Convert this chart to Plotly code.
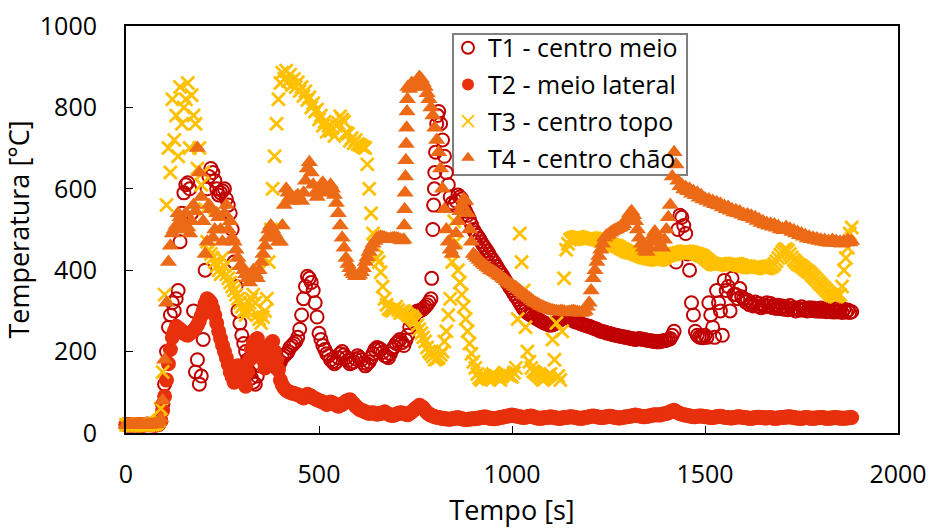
import plotly.graph_objects as go

# Leituras a cada 5 s; cada linha cobre 100 s (0-95, 100-195, ..., 1800-1880)
PASSO = 5
BLOCO = 100

T1_centro_meio = [
    [20, 19, 21, 20, 20, 21, 19, 20, 20, 19, 21, 22, 20, 21, 20, 19, 22, 21, 30, 70],
    [120, 200, 260, 290, 320, 300, 330, 350, 470, 540, 590, 610, 615, 600, 540, 300, 150, 180, 120, 140],
    [230, 400, 600, 630, 650, 640, 620, 600, 585, 590, 595, 600, 575, 560, 540, 500, 420, 360, 300, 270],
    [240, 220, 200, 180, 150, 135, 125, 120, 140, 165, 190, 200, 210, 205, 195, 185, 170, 165, 160, 165],
    [175, 185, 190, 195, 200, 210, 215, 220, 225, 235, 255, 290, 330, 360, 385, 380, 370, 350, 320, 285],
    [245, 230, 215, 205, 195, 190, 180, 175, 170, 175, 185, 195, 200, 192, 185, 178, 170, 172, 175, 182],
    [190, 185, 180, 172, 165, 170, 175, 185, 195, 205, 210, 208, 205, 198, 190, 188, 185, 195, 205, 212],
    [220, 225, 230, 222, 215, 228, 240, 260, 275, 285, 295, 300, 300, 302, 305, 310, 315, 322, 330, 500],
    [640, 760, 790, 760, 720, 680, 640, 610, 580, 565, 560, 570, 585, 580, 575, 560, 545, 535, 525, 512],
    [500, 492, 485, 478, 470, 462, 455, 448, 440, 432, 425, 418, 410, 402, 395, 388, 380, 372, 365, 357],
    [350, 342, 335, 328, 320, 312, 305, 300, 295, 292, 290, 286, 283, 280, 278, 275, 272, 270, 268, 266],
    [265, 266, 268, 272, 275, 278, 282, 284, 285, 283, 280, 278, 275, 273, 272, 270, 268, 266, 265, 263],
    [262, 260, 258, 256, 255, 252, 250, 249, 248, 246, 245, 244, 242, 241, 240, 239, 238, 237, 236, 235],
    [234, 233, 232, 231, 230, 231, 232, 231, 230, 229, 228, 227, 226, 226, 225, 224, 224, 225, 226, 227],
    [228, 230, 232, 240, 250, 420, 500, 535, 530, 510, 490, 440, 400, 320, 290, 250, 240, 236, 235, 234],
    [240, 235, 320, 290, 260, 235, 350, 320, 300, 240, 375, 350, 360, 300, 380, 340, 340, 330, 355, 335],
    [330, 322, 326, 315, 320, 312, 322, 312, 318, 308, 315, 310, 320, 312, 318, 308, 313, 306, 314, 306],
    [312, 304, 310, 303, 313, 305, 308, 300, 307, 302, 310, 302, 306, 300, 308, 301, 307, 300, 305, 299],
    [307, 299, 304, 298, 306, 298, 303, 297, 305, 298, 302, 296, 304, 297, 302, 296, 298],
]
T1_extra_t = [792, 797, 799, 802, 807]
T1_extra_v = [380, 560, 600, 690, 780]

T2_meio_lateral = [
    [20, 21, 20, 19, 21, 20, 20, 21, 19, 20, 20, 21, 21, 20, 20, 19, 21, 22, 30, 55],
    [90, 130, 170, 205, 235, 250, 262, 258, 255, 250, 245, 242, 240, 244, 248, 252, 258, 265, 275, 288],
    [300, 318, 330, 326, 320, 305, 290, 270, 250, 232, 215, 200, 185, 168, 150, 138, 125, 145, 165, 152],
    [140, 128, 115, 150, 180, 205, 220, 228, 232, 215, 200, 180, 160, 185, 210, 220, 225, 200, 180, 155],
    [130, 118, 110, 105, 102, 100, 98, 97, 96, 94, 92, 89, 86, 90, 95, 93, 90, 87, 84, 82],
    [80, 78, 76, 73, 70, 73, 76, 74, 72, 68, 66, 68, 70, 74, 78, 80, 82, 76, 72, 66],
    [62, 58, 56, 54, 52, 50, 48, 49, 50, 48, 46, 47, 48, 50, 52, 49, 46, 44, 43, 44],
    [46, 48, 50, 49, 48, 46, 45, 48, 52, 56, 60, 64, 68, 65, 62, 56, 50, 46, 44, 42],
    [40, 39, 38, 37, 36, 35, 35, 34, 34, 35, 36, 37, 38, 36, 35, 34, 33, 34, 34, 35],
    [35, 35, 36, 37, 38, 39, 40, 38, 37, 36, 35, 35, 36, 37, 38, 39, 40, 41, 42, 43],
    [44, 43, 42, 41, 40, 39, 38, 39, 40, 41, 42, 40, 38, 37, 36, 36, 37, 38, 38, 39],
    [40, 39, 38, 37, 36, 36, 37, 38, 38, 39, 40, 40, 39, 38, 37, 36, 36, 37, 38, 39],
    [40, 41, 42, 41, 40, 39, 38, 38, 39, 40, 41, 41, 40, 39, 38, 37, 37, 38, 39, 40],
    [40, 41, 42, 43, 44, 43, 42, 41, 40, 40, 41, 42, 43, 44, 45, 45, 44, 45, 46, 47],
    [48, 50, 52, 54, 56, 53, 50, 48, 46, 45, 44, 43, 42, 41, 40, 40, 41, 42, 42, 41],
    [40, 40, 39, 38, 38, 39, 40, 41, 41, 40, 39, 38, 38, 37, 37, 38, 39, 40, 40, 39],
    [38, 38, 37, 36, 36, 37, 38, 39, 39, 38, 38, 37, 37, 38, 38, 37, 36, 36, 37, 38],
    [38, 39, 39, 40, 40, 39, 38, 37, 37, 36, 36, 37, 38, 38, 37, 36, 36, 37, 37, 38],
    [38, 38, 37, 36, 36, 37, 37, 38, 38, 37, 37, 36, 36, 37, 37, 38, 38],
]
T2_extra_t = []
T2_extra_v = []

T3_centro_topo = [
    [20, 21, 20, 19, 19, 20, 20, 21, 21, 20, 20, 19, 20, 21, 21, 22, 25, 30, 60, 150],
    [340, 560, 700, 640, 820, 720, 780, 680, 850, 760, 800, 820, 860, 700, 830, 780, 760, 650, 700, 610],
    [640, 550, 470, 450, 440, 430, 420, 410, 400, 390, 430, 410, 390, 380, 370, 360, 350, 340, 330, 320],
    [310, 300, 290, 300, 320, 330, 340, 320, 290, 280, 270, 285, 300, 330, 420, 500, 600, 680, 760, 820],
    [860, 885, 870, 890, 865, 880, 855, 870, 850, 862, 840, 850, 828, 840, 818, 825, 800, 810, 790, 795],
    [770, 780, 755, 765, 740, 755, 742, 750, 730, 755, 762, 778, 770, 765, 738, 735, 718, 725, 712, 720],
    [710, 708, 705, 702, 700, 660, 600, 540, 490, 460, 430, 420, 395, 360, 330, 315, 305, 302, 300, 305],
    [310, 302, 295, 298, 300, 295, 290, 288, 285, 280, 275, 265, 255, 245, 235, 225, 210, 200, 195, 188],
    [180, 182, 185, 192, 200, 225, 250, 290, 330, 420, 520, 470, 400, 370, 340, 310, 280, 250, 220, 195],
    [175, 160, 145, 135, 130, 135, 140, 136, 132, 140, 145, 140, 138, 134, 130, 140, 148, 145, 142, 140],
    [138, 148, 160, 280, 490, 420, 350, 260, 200, 175, 160, 152, 148, 144, 140, 135, 130, 134, 138, 142],
    [145, 230, 180, 270, 140, 130, 250, 380, 450, 465, 475, 478, 480, 481, 482, 481, 480, 478, 476, 477],
    [478, 479, 478, 477, 476, 474, 472, 471, 470, 468, 465, 464, 462, 461, 460, 458, 455, 452, 450, 448],
    [445, 444, 443, 442, 440, 438, 436, 434, 432, 431, 430, 429, 428, 427, 426, 425, 425, 426, 428, 430],
    [435, 436, 438, 439, 440, 441, 442, 443, 445, 446, 446, 446, 445, 444, 442, 441, 440, 438, 436, 434],
    [430, 426, 422, 418, 415, 414, 414, 415, 416, 416, 415, 414, 412, 413, 414, 415, 416, 415, 413, 412],
    [410, 409, 408, 407, 406, 407, 408, 409, 410, 408, 406, 405, 404, 406, 408, 410, 415, 422, 430, 438],
    [445, 450, 452, 448, 440, 432, 425, 420, 415, 412, 410, 406, 402, 398, 395, 390, 385, 380, 375, 370],
    [365, 360, 355, 350, 345, 341, 338, 336, 335, 337, 340, 360, 400, 430, 455, 490, 505],
]
T3_extra_t = []
T3_extra_v = []

T4_centro_chao = [
    [20, 21, 20, 19, 21, 20, 20, 21, 20, 19, 19, 20, 20, 21, 21, 22, 22, 28, 35, 80],
    [180, 320, 420, 460, 490, 500, 510, 540, 530, 500, 520, 540, 505, 490, 520, 560, 545, 700, 640, 580],
    [520, 440, 470, 560, 550, 480, 500, 540, 530, 500, 470, 540, 560, 500, 520, 480, 470, 450, 430, 410],
    [410, 400, 390, 380, 370, 385, 400, 390, 380, 400, 420, 440, 460, 480, 500, 510, 500, 490, 480, 470],
    [470, 510, 560, 600, 590, 580, 570, 575, 580, 585, 575, 570, 590, 620, 650, 665, 640, 610, 590, 580],
    [600, 610, 615, 605, 590, 600, 610, 600, 585, 565, 540, 510, 480, 455, 430, 415, 405, 395, 390, 385],
    [385, 388, 395, 405, 420, 432, 445, 455, 465, 472, 478, 481, 482, 481, 480, 478, 476, 477, 478, 479],
    [478, 477, 475, 473, 475, 670, 850, 845, 860, 850, 860, 868, 875, 870, 860, 850, 835, 820, 800, 780],
    [750, 720, 690, 650, 600, 550, 500, 470, 450, 440, 460, 490, 520, 545, 560, 575, 570, 540, 500, 470],
    [440, 435, 430, 425, 420, 416, 412, 408, 404, 400, 398, 395, 392, 388, 385, 381, 378, 374, 370, 367],
    [364, 360, 358, 354, 350, 346, 342, 338, 335, 331, 328, 324, 320, 318, 315, 312, 310, 308, 306, 304],
    [302, 301, 300, 299, 298, 299, 300, 298, 296, 297, 298, 299, 300, 298, 297, 296, 295, 297, 300, 310],
    [320, 350, 380, 400, 420, 435, 450, 465, 480, 485, 488, 492, 495, 498, 500, 503, 505, 508, 512, 520],
    [530, 540, 545, 535, 520, 500, 480, 465, 455, 448, 445, 455, 470, 485, 495, 485, 470, 460, 455, 475],
    [500, 530, 560, 630, 690, 660, 620, 606, 610, 598, 604, 594, 600, 588, 594, 584, 590, 578, 584, 574],
    [576, 570, 574, 566, 570, 562, 567, 559, 563, 554, 558, 550, 555, 546, 550, 542, 547, 540, 544, 536],
    [538, 532, 537, 530, 534, 526, 530, 521, 525, 516, 520, 512, 516, 509, 514, 507, 512, 504, 508, 500],
    [502, 498, 506, 499, 502, 494, 498, 490, 494, 486, 490, 482, 486, 478, 482, 476, 480, 474, 478, 472],
    [475, 470, 474, 468, 472, 467, 474, 468, 472, 466, 470, 465, 472, 468, 474, 468, 472],
]
T4_extra_t = [721, 722, 723, 724, 726, 727, 728, 729]
T4_extra_v = [510, 550, 590, 630, 710, 750, 790, 820]


def serie(linhas, extra_t, extra_v):
    pares = []
    for i, linha in enumerate(linhas):
        for j, v in enumerate(linha):
            pares.append((BLOCO * i + PASSO * j, v))
    pares += list(zip(extra_t, extra_v))
    pares.sort()
    return [p[0] for p in pares], [p[1] for p in pares]


FONTE = "Open Sans"
fig = go.Figure()

series = [
    ("T1 - centro meio", T1_centro_meio, T1_extra_t, T1_extra_v,
     dict(symbol="circle-open", size=13, color="#C00000", line=dict(width=2, color="#C00000"))),
    ("T2 - meio lateral", T2_meio_lateral, T2_extra_t, T2_extra_v,
     dict(symbol="circle", size=15, color="#E8300C", line=dict(width=0))),
    ("T3 - centro topo", T3_centro_topo, T3_extra_t, T3_extra_v,
     dict(symbol="x-thin-open", size=13, color="#FFC000", line=dict(width=2.8, color="#FFC000"))),
    ("T4 - centro chão", T4_centro_chao, T4_extra_t, T4_extra_v,
     dict(symbol="triangle-up", size=15, color="#EC6A16", line=dict(width=0))),
]

for i, (nome, linhas, et, ev, mk) in enumerate(series):
    x, y = serie(linhas, et, ev)
    fig.add_trace(go.Scatter(
        x=x, y=y, mode="markers", name=nome, marker=mk,
        cliponaxis=False, legendgroup=f"g{i}",
    ))

fig.update_layout(
    width=931, height=528,
    margin=dict(l=126, r=33, t=26, b=95, autoexpand=False),
    paper_bgcolor="white", plot_bgcolor="white",
    font=dict(family=FONTE, size=25, color="#000000"),
    showlegend=True,
    legend=dict(
        x=0.4171, y=1.0025, xanchor="left", yanchor="top",
        bgcolor="rgba(0,0,0,0)", borderwidth=0,
        font=dict(family=FONTE, size=25, color="#000000"),
        traceorder="grouped", tracegroupgap=1.2,
        itemsizing="constant",
    ),
    # moldura da legenda (os marcadores ficam por cima dela)
    shapes=[dict(
        type="rect", xref="paper", yref="paper",
        x0=0.4236, x1=0.7267, y0=0.6339, y1=0.9803,
        fillcolor="white", line=dict(color="#7F7F7F", width=2),
        layer="below",
    )],
)

fig.update_xaxes(
    range=[0, 2000], tickvals=[0, 500, 1000, 1500, 2000],
    showgrid=False, zeroline=False, automargin=False,
    showline=True, linecolor="black", linewidth=2, mirror=True,
    ticks="inside", ticklen=7, tickcolor="black", tickwidth=1,
    ticklabelstandoff=18,
    title=dict(text="Tempo [s]", standoff=17, font=dict(size=27)),
)
fig.update_yaxes(
    range=[0, 1000], tickvals=[0, 200, 400, 600, 800, 1000],
    showgrid=False, zeroline=False, automargin=False,
    showline=True, linecolor="black", linewidth=2, mirror=True,
    ticks="inside", ticklen=7, tickcolor="black", tickwidth=1,
    ticklabelstandoff=22,
    title=dict(text="Temperatura [°C]", standoff=4, font=dict(size=27)),
)

fig.write_html("out.html")
